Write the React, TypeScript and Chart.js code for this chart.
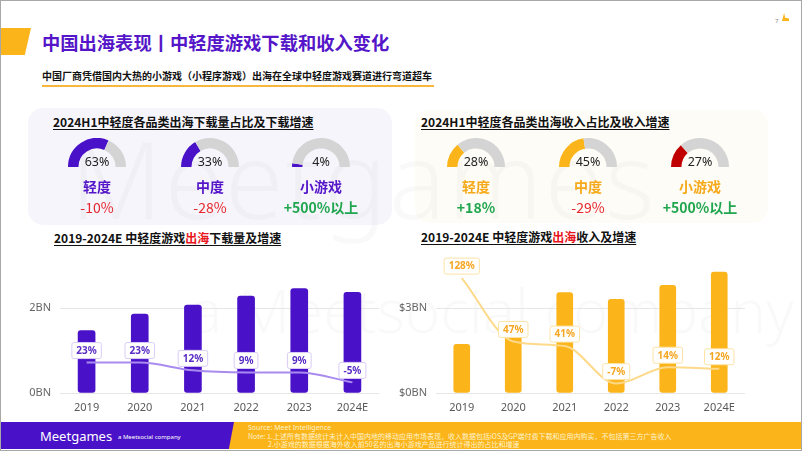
import React, { useEffect, useRef } from "react";
import { Chart, registerables } from "chart.js";

Chart.register(...registerables);

// ---------- data ----------
const years = ["2019", "2020", "2021", "2022", "2023", "2024E"];
const downloadsBN = [1.47, 1.86, 2.07, 2.28, 2.46, 2.37];
const downloadGrowth = [23, 23, 12, 9, 9, -5];
const revenueBN = [1.72, 2.52, 3.55, 3.31, 3.8, 4.27];
const revenueGrowth = [128, 47, 41, -7, 14, 12];
const downloadTickLabels: Record<number, string> = { 0: "0BN", 2: "2BN" };
const revenueTickLabels: Record<number, string> = { 0: "$0BN", 3: "$3BN" };

const gaugeCategories = ["轻度", "中度", "小游戏"];
const downloadShare = [63, 33, 4];
const downloadChange = ["-10%", "-28%", "+500%以上"];
const revenueShare = [28, 45, 27];
const revenueChange = ["+18%", "-29%", "+500%以上"];

const FONT = '"Noto Sans", "Noto Sans CJK SC", sans-serif';
const CJK = '"Noto Sans CJK SC", "Noto Sans", sans-serif';
const PURPLE = "#4A12C8";
const ORANGE = "#FBB41A";
const RED = "#E5262E";
const GREEN = "#1FA64E";

function Gauge({ value, color, cx, top }: { value: number; color: string; cx: number; top: number }) {
  const ref = useRef<HTMLCanvasElement>(null);
  useEffect(() => {
    const chart = new Chart(ref.current as HTMLCanvasElement, {
      type: "doughnut",
      data: {
        datasets: [
          {
            data: [value, 100 - value],
            backgroundColor: [color, "#D4D4D4"],
            borderWidth: 0,
          },
        ],
      },
      options: {
        responsive: false,
        animation: false,
        rotation: -90,
        circumference: 180,
        cutout: "64%",
        events: [],
        plugins: { legend: { display: false }, tooltip: { enabled: false } },
      },
    });
    return () => chart.destroy();
  }, [value, color]);
  return (
    <canvas
      ref={ref}
      width={58}
      height={29}
      style={{ position: "absolute", left: cx - 29, top, width: 58, height: 29, zIndex: 3 }}
    />
  );
}

type ComboProps = {
  left: number;
  top: number;
  width: number;
  height: number;
  bars: number[];
  growth: number[];
  barColor: string;
  lineColor: string;
  textColor: string;
  boxColor: string;
  yMax: number;
  step: number;
  tickMap: Record<number, string>;
  y1Min: number;
  y1Max: number;
  barThickness: number;
};

function ComboChart(p: ComboProps) {
  const ref = useRef<HTMLCanvasElement>(null);
  useEffect(() => {
    const labelPlugin = {
      id: "boxLabels",
      afterDatasetsDraw(chart: any) {
        const meta = chart.getDatasetMeta(0);
        const ctx = chart.ctx as CanvasRenderingContext2D;
        ctx.save();
        ctx.font = `bold 10px ${FONT}`;
        meta.data.forEach((pt: any, i: number) => {
          const txt = `${p.growth[i]}%`;
          const w = ctx.measureText(txt).width + 9;
          const h = 16;
          const x = pt.x;
          const y = pt.y - 12;
          ctx.beginPath();
          (ctx as any).roundRect(x - w / 2, y - h / 2, w, h, 2);
          ctx.fillStyle = "#FFFFFF";
          ctx.fill();
          ctx.lineWidth = 1;
          ctx.strokeStyle = p.boxColor;
          ctx.stroke();
          ctx.fillStyle = p.textColor;
          ctx.textAlign = "center";
          ctx.textBaseline = "middle";
          ctx.fillText(txt, x, y + 0.5);
        });
        ctx.restore();
      },
    };
    const chart = new Chart(ref.current as HTMLCanvasElement, {
      type: "bar",
      data: {
        labels: years,
        datasets: [
          {
            type: "line",
            data: p.growth,
            yAxisID: "y1",
            borderColor: p.lineColor,
            borderWidth: 2,
            pointRadius: 0,
            cubicInterpolationMode: "monotone",
            order: 0,
          } as any,
          {
            type: "bar",
            data: p.bars,
            yAxisID: "y",
            backgroundColor: p.barColor,
            barThickness: p.barThickness,
            borderRadius: 3,
            borderSkipped: false,
            order: 1,
          } as any,
        ],
      },
      options: {
        responsive: false,
        animation: false,
        events: [],
        layout: { padding: { top: 12.5, right: 4, bottom: 5, left: 0 } },
        plugins: { legend: { display: false }, tooltip: { enabled: false } },
        scales: {
          x: {
            grid: { display: false, drawTicks: false },
            border: { display: false },
            ticks: { color: "#595959", font: { size: 11, family: FONT }, padding: 8 },
            afterFit: (s: any) => {
              s.height = 22;
            },
          },
          y: {
            min: 0,
            max: p.yMax,
            position: "left",
            grid: { color: "#E6E6E6", drawTicks: false },
            border: { display: false },
            ticks: {
              stepSize: p.step,
              includeBounds: false,
              padding: 9,
              color: "#666666",
              font: { size: 11, family: FONT },
              callback: (v: any) => p.tickMap[v as number] ?? "",
            },
            afterFit: (s: any) => {
              s.width = 38;
            },
          },
          y1: { display: false, min: p.y1Min, max: p.y1Max },
        },
      } as any,
      plugins: [labelPlugin],
    });
    return () => chart.destroy();
  }, []);
  return (
    <canvas
      ref={ref}
      width={p.width}
      height={p.height}
      style={{ position: "absolute", left: p.left, top: p.top, width: p.width, height: p.height, zIndex: 3 }}
    />
  );
}

function T({
  x,
  cy,
  size,
  children,
  color = "#111",
  bold = false,
  center = false,
  w = 120,
  family = CJK,
  style = {},
}: any) {
  const h = Math.round(size * 1.4);
  return (
    <div
      style={{
        position: "absolute",
        left: center ? x - w / 2 : x,
        width: center ? w : undefined,
        textAlign: center ? "center" : "left",
        top: cy - h / 2,
        height: h,
        lineHeight: `${h}px`,
        fontSize: size,
        fontWeight: bold ? 700 : 400,
        color,
        fontFamily: family,
        whiteSpace: "nowrap",
        zIndex: 4,
        ...style,
      }}
    >
      {children}
    </div>
  );
}

const leftCx = [97, 210, 321];
const rightCx = [476, 588, 700];

export default function App() {
  useEffect(() => {
    document.body.style.margin = "0";
  }, []);
  return (
    <div
      style={{
        position: "relative",
        width: 802,
        height: 451,
        overflow: "hidden",
        background: "#fff",
        fontFamily: FONT,
        boxSizing: "border-box",
      }}
    >
      <style>{`body{margin:0}`}</style>
      {/* frame */}
      <div style={{ position: "absolute", inset: 0, border: "1px solid #A8A8A8", zIndex: 10, pointerEvents: "none" }} />

      {/* panels */}
      <div style={{ position: "absolute", left: 28, top: 108, width: 364, height: 117, borderRadius: 15, background: "#F7F5FC", zIndex: 0 }} />
      <div style={{ position: "absolute", left: 415, top: 110, width: 353, height: 113, borderRadius: 15, background: "#FEFCF6", zIndex: 0 }} />

      {/* watermark */}
      <div style={{ position: "absolute", left: 70, top: 118, fontSize: 106, fontWeight: 300, color: "rgba(0,0,0,0.025)", fontFamily: FONT, letterSpacing: 2, lineHeight: "120px", zIndex: 1, whiteSpace: "nowrap" }}>
        Meetgames
      </div>
      <div style={{ position: "absolute", left: 190, top: 270, fontSize: 60, fontWeight: 300, color: "rgba(0,0,0,0.022)", fontFamily: FONT, lineHeight: "80px", zIndex: 1, whiteSpace: "nowrap" }}>
        a Meetsocial company
      </div>

      {/* header */}
      <div style={{ position: "absolute", left: 0, top: 28, width: 31, height: 27, background: ORANGE, clipPath: "polygon(0 0, 100% 0, 80% 100%, 0 100%)", zIndex: 2 }} />
      <T x={42} cy={42} size={18.3} bold color="#5416C8">中国出海表现丨中轻度游戏下载和收入变化</T>
      <T x={775} cy={21} size={6} color="#888" family={FONT}>7</T>
      <div style={{ position: "absolute", left: 782, top: 13, width: 7, height: 8, background: ORANGE, clipPath: "polygon(0 100%, 30% 0, 45% 60%, 100% 70%, 100% 100%)", zIndex: 2 }} />
      <T x={42} cy={76} size={10} bold color="#111">中国厂商凭借国内大热的小游戏（小程序游戏）出海在全球中轻度游戏赛道进行弯道超车</T>
      <div style={{ position: "absolute", left: 42, top: 85, width: 392, height: 1.5, background: "#F6B73C", zIndex: 2 }} />

      {/* section headings */}
      <T x={53} cy={121} size={12} bold color="#111" style={{ textDecoration: "underline", textUnderlineOffset: 2 }}>2024H1中轻度各品类出海下载量占比及下载增速</T>
      <T x={421} cy={121} size={12} bold color="#111" style={{ textDecoration: "underline", textUnderlineOffset: 2 }}>2024H1中轻度各品类出海收入占比及收入增速</T>

      {/* gauges */}
      {downloadShare.map((v, i) => (
        <React.Fragment key={"d" + i}>
          <Gauge value={v} color={PURPLE} cx={leftCx[i]} top={138} />
          <T x={leftCx[i]} cy={162} size={12.5} center family={FONT} color="#222">{v}%</T>
          <T x={leftCx[i]} cy={186} size={14} bold center color="#5416C8">{gaugeCategories[i]}</T>
          <T x={leftCx[i]} cy={207} size={14} center bold={downloadChange[i].startsWith("+")} color={downloadChange[i].startsWith("+") ? GREEN : RED}>{downloadChange[i]}</T>
        </React.Fragment>
      ))}
      {revenueShare.map((v, i) => (
        <React.Fragment key={"r" + i}>
          <Gauge value={v} color={i === 2 ? "#C00000" : ORANGE} cx={rightCx[i]} top={138} />
          <T x={rightCx[i]} cy={162} size={12.5} center family={FONT} color="#222">{v}%</T>
          <T x={rightCx[i]} cy={186} size={14} bold center color="#F6A91B">{gaugeCategories[i]}</T>
          <T x={rightCx[i]} cy={207} size={14} center bold={revenueChange[i].startsWith("+")} color={revenueChange[i].startsWith("+") ? GREEN : RED}>{revenueChange[i]}</T>
        </React.Fragment>
      ))}

      {/* chart headings */}
      <T x={54} cy={237} size={12} bold color="#111" style={{ textDecoration: "underline", textUnderlineOffset: 2 }}>
        2019-2024E 中轻度游戏<span style={{ color: "#E8141B" }}>出海</span>下载量及增速
      </T>
      <T x={421} cy={236} size={12} bold color="#111" style={{ textDecoration: "underline", textUnderlineOffset: 2 }}>
        2019-2024E 中轻度游戏<span style={{ color: "#E8141B" }}>出海</span>收入及增速
      </T>

      {/* charts */}
      <ComboChart
        left={22}
        top={250}
        width={361}
        height={170}
        bars={downloadsBN}
        growth={downloadGrowth}
        barColor={PURPLE}
        lineColor="#A98BF0"
        textColor="#5A2DC4"
        boxColor="#D8CCF6"
        yMax={3}
        step={2}
        tickMap={downloadTickLabels}
        y1Min={-20}
        y1Max={160}
        barThickness={17}
      />
      <ComboChart
        left={398}
        top={250}
        width={351}
        height={170}
        bars={revenueBN}
        growth={revenueGrowth}
        barColor={ORANGE}
        lineColor="#FDD98A"
        textColor="#F5A623"
        boxColor="#FCE3A6"
        yMax={4.5}
        step={3}
        tickMap={revenueTickLabels}
        y1Min={-19}
        y1Max={144}
        barThickness={16}
      />

      {/* footer */}
      <div style={{ position: "absolute", left: 0, top: 422, width: 802, height: 27, background: ORANGE, zIndex: 2 }} />
      <div style={{ position: "absolute", left: 0, top: 422, width: 234, height: 27, background: PURPLE, clipPath: "polygon(0 0, 100% 0, 97.8% 100%, 0 100%)", zIndex: 2 }} />
      <T x={40} cy={436} size={13} color="#fff" family={FONT}>Meetgames</T>
      <T x={118} cy={437} size={6} color="#fff" family={FONT}>a Meetsocial company</T>
      <T x={248} cy={428} size={7} color="#FFF3CC" family={FONT}>Source: Meet Intelligence</T>
      <T x={248} cy={435.5} size={7} color="#FFF3CC">Note: 1.上述所有数据统计未计入中国内地的移动应用市场表现，收入数据包括iOS及GP端付费下载和应用内购买，不包括第三方广告收入</T>
      <T x={268} cy={443.5} size={7} color="#FFF3CC">2.小游戏的数据根据海外收入前50名的出海小游戏产品进行统计得出的占比和增速</T>
    </div>
  );
}
